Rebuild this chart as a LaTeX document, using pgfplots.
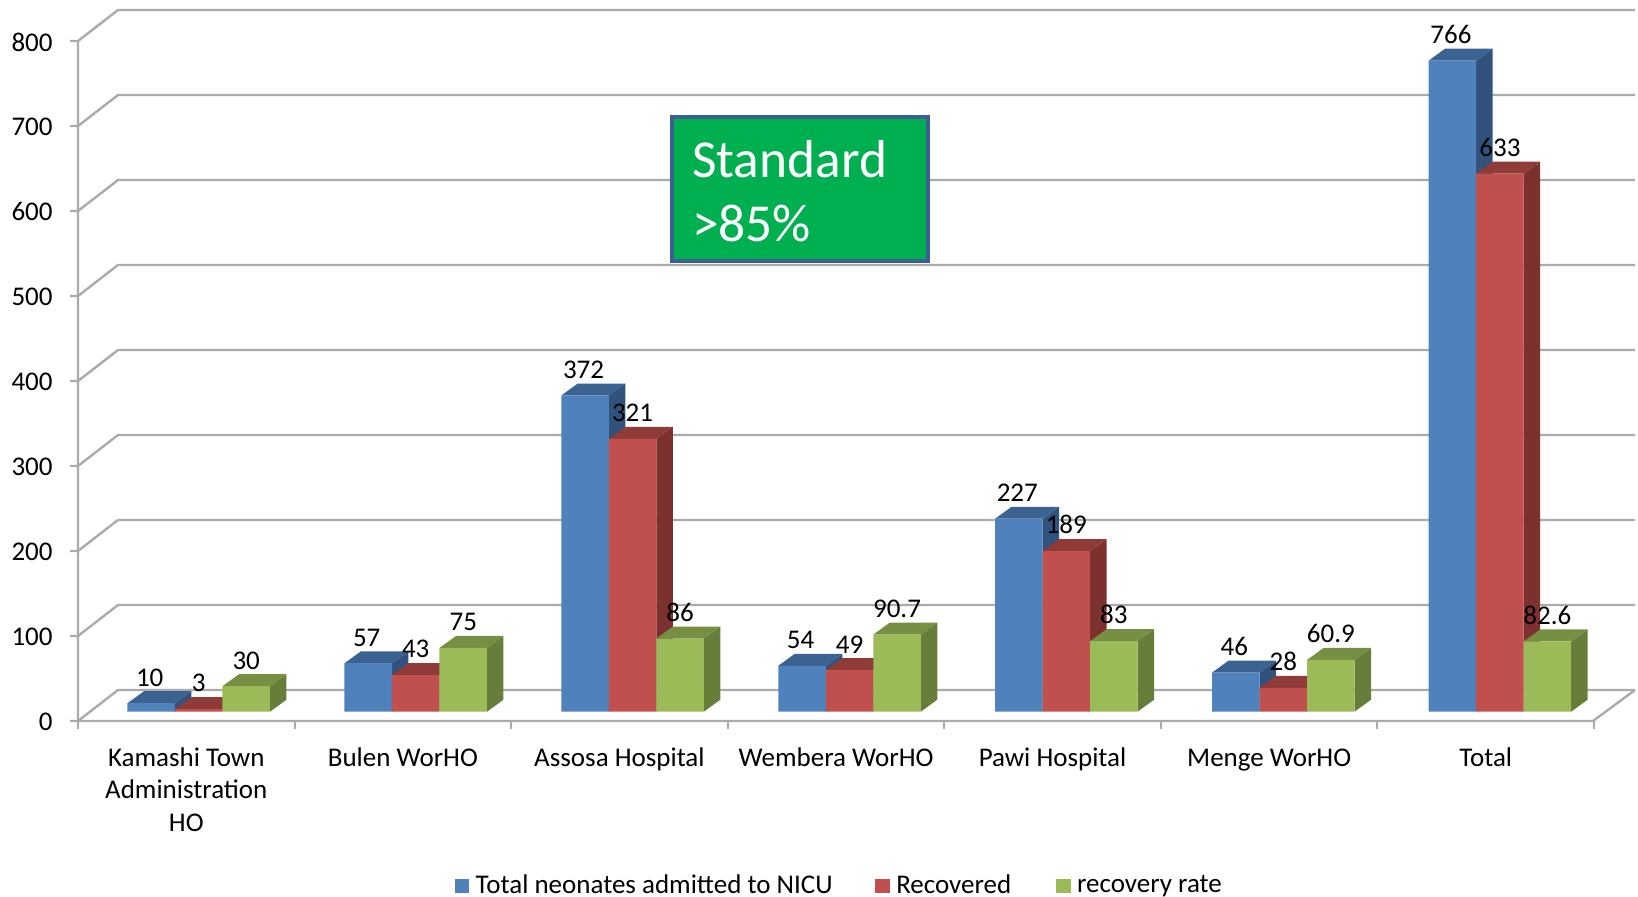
\documentclass[border=0pt]{standalone}
\usepackage{fontspec}
\setmainfont{Carlito}
\usepackage{pgfplots}
\usepackage{pgfplotstable}
\pgfplotsset{compat=1.18}
\definecolor{bluef}{HTML}{4F81BD}\definecolor{blues}{HTML}{30527C}\definecolor{bluet}{HTML}{3A6391}
\definecolor{redf}{HTML}{C0504D}\definecolor{reds}{HTML}{7D312E}\definecolor{redt}{HTML}{8F3C39}
\definecolor{greenf}{HTML}{9BBB59}\definecolor{greens}{HTML}{677D3A}\definecolor{greent}{HTML}{768F42}
\definecolor{gridc}{HTML}{ABABAB}
\definecolor{boxf}{HTML}{00B050}\definecolor{boxd}{HTML}{3A6090}
\pgfplotstableread{
pos total recovered rate
0.503 10 3 30
1.505 57 43 75
2.506 372 321 86
3.508 54 49 90.7
4.509 227 189 83
5.511 46 28 60.9
6.511 766 633 82.6
}\chartdata
% side and top faces of one 3D bar: row, column, shift in x units, side colour, top colour
\newcommand{\barfaces}[5]{%
  \pgfplotstablegetelem{#1}{pos}\of\chartdata\edef\bpos{\pgfplotsretval}%
  \pgfplotstablegetelem{#1}{#2}\of\chartdata\edef\bval{\pgfplotsretval}%
  \pgfmathsetmacro\xa{\bpos+#3-0.1096}%
  \pgfmathsetmacro\xb{\bpos+#3+0.1096}%
  \pgfmathsetmacro\xc{\xb+0.0762}%
  \pgfmathsetmacro\xd{\xa+0.0762}%
  \pgfmathsetmacro\yb{\bval+14.1}%
  \edef\temp{\noexpand\addplot[forget plot,draw=none,fill=#4,mark=none] coordinates {(\xb,0) (\xc,14.1) (\xc,\yb) (\xb,\bval) (\xb,0)};
    \noexpand\addplot[forget plot,draw=none,fill=#5,mark=none] coordinates {(\xa,\bval) (\xd,\yb) (\xc,\yb) (\xb,\bval) (\xa,\bval)};}%
  \temp
}
\pgfplotsset{sq/.style={legend image code/.code={\fill[##1] (0pt,-3.65pt) rectangle (7.3pt,3.65pt);}},
  lab/.style={nodes near coords,
    nodes near coords style={font=\fontsize{13.5}{16}\selectfont,text=black,inner sep=0pt,anchor=south,yshift=8.3pt,xshift=#1}}}
\newcommand{\st}{\rule{0pt}{11pt}}
\begin{document}
\begin{tikzpicture}[x=1pt,y=1pt]
\useasboundingbox (0,0) rectangle (819,448.5);
\begin{axis}[
  at={(44.9pt,92.65pt)},anchor=south west,
  scale only axis,width=758pt,height=340pt,
  xmin=0,xmax=7,ymin=0,ymax=800,clip=false,
  axis lines=left,axis line style={draw=none,-},
  major tick length=0pt,tick style={draw=none},
  /pgf/number format/assume math mode=true,
  xtick={0.5,1.5,2.5,3.5,4.5,5.5,6.5},
  xticklabels={{\st Kamashi Town\\Administration\\HO},{\st Bulen WorHO},{\st Assosa Hospital},{\st Wembera WorHO},{\st Pawi Hospital},{\st Menge WorHO},{\st Total}},
  ytick={0,100,...,800},
  tick label style={font=\fontsize{13.5}{16.3}\selectfont,text=black},
  xticklabel style={align=center,anchor=north,inner sep=0pt,xshift=-5.9pt,yshift=-16.1pt},
  yticklabel style={anchor=east,inner sep=0pt,xshift=-18.4pt,yshift=-5.1pt},
  legend columns=3,
  legend style={draw=none,fill=none,at={(axis cs:3.465,-205)},anchor=center,font=\fontsize{13.5}{16}\selectfont,
    /tikz/column 1/.style={column sep=1.2pt},/tikz/column 2/.style={column sep=19.3pt},
    /tikz/column 3/.style={column sep=1.2pt},/tikz/column 4/.style={column sep=20.4pt},
    /tikz/column 5/.style={column sep=1.2pt},inner sep=0pt},
  legend cell align=left,
]
% walls, floor and axis lines
\pgfplotsinvokeforeach{0,100,...,800}{
  \draw[gridc,line width=1.2pt] ([shift={(-9.9pt,-4.65pt)}]axis cs:0,#1) -- ++(4pt,0) -- ++(20pt,15.5pt) -- ++(758.5pt,0);
}
\draw[gridc,line width=1.2pt] ([shift={(-5.9pt,-4.65pt)}]axis cs:0,800) -- ([shift={(-5.9pt,-4.65pt)}]axis cs:0,0) -- ++(757.5pt,0) -- ++(21pt,15.5pt);
\pgfplotsinvokeforeach{0,...,7}{
  \draw[gridc,line width=1.0pt] ([shift={(-5.9pt,-4.65pt)}]axis cs:#1,0) -- ++(0,-4pt);
}
% series 1
\pgfplotsinvokeforeach{0,...,6}{\barfaces{#1}{total}{-0.2193}{blues}{bluet}}
\addplot[ybar,lab=-24.5pt,bar width=23.75pt,bar shift=-23.75pt,fill=bluef,draw=none,sq] table[x=pos,y=total]{\chartdata};
\addlegendentry{Total neonates admitted to NICU}
% series 2
\pgfplotsinvokeforeach{0,...,6}{\barfaces{#1}{recovered}{0}{reds}{redt}}
\addplot[ybar,lab=0pt,bar width=23.75pt,bar shift=0pt,fill=redf,draw=none,sq] table[x=pos,y=recovered]{\chartdata};
\addlegendentry{Recovered}
% series 3
\pgfplotsinvokeforeach{0,...,6}{\barfaces{#1}{rate}{0.2193}{greens}{greent}}
\addplot[ybar,lab=23.75pt,bar width=23.75pt,bar shift=23.75pt,fill=greenf,draw=none,sq] table[x=pos,y=rate]{\chartdata};
\addlegendentry{recovery rate}
% annotation box
\node[rectangle,draw=boxd,fill=boxf,line width=2pt,minimum width=128pt,minimum height=72pt] at (axis cs:3.279,615) {};
\node[inner sep=0pt,text width=107pt,align=left,text=white,font=\fontsize{26.7}{32}\selectfont] at (axis cs:3.275,612) {Standard\\>85\%};
\end{axis}
\end{tikzpicture}
\end{document}
